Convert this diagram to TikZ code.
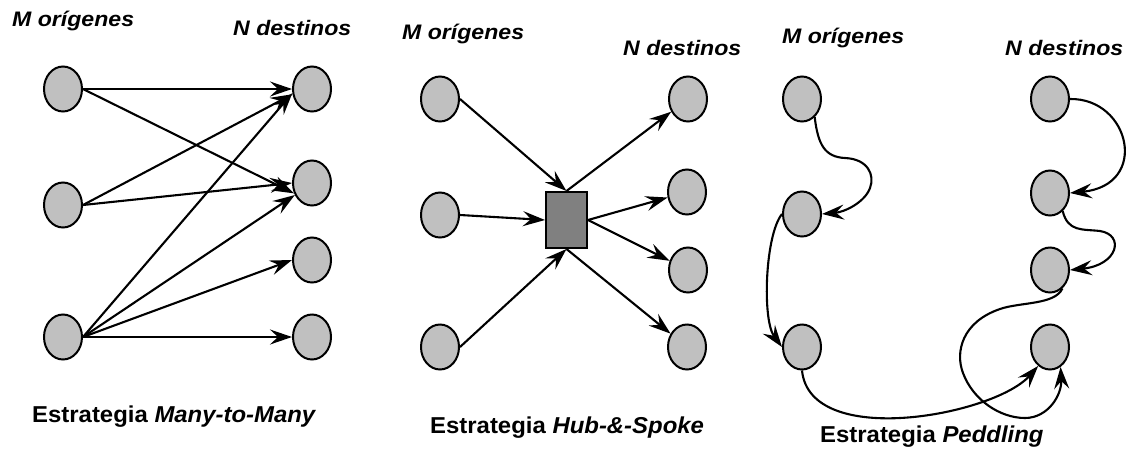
\documentclass[tikz,border=0pt]{standalone}
\usepackage{fontspec}
\setmainfont{Liberation Sans}
\usetikzlibrary{shapes.geometric,arrows.meta}
\definecolor{siteGray}{HTML}{C0C0C0}
\definecolor{hubGray}{HTML}{808080}
% widened lettering for the headings and captions
\newcommand\widetop[1]{\scalebox{1.1}[1]{#1}}
\newcommand\widecap[1]{\scalebox{1.04}[1]{#1}}

\begin{document}
\begin{tikzpicture}[x=1pt,y=-1pt,
  site/.style={ellipse, draw, line width=2pt, fill=siteGray,
    minimum width=38pt, minimum height=45pt, inner sep=0pt},
  hubbox/.style={rectangle, draw, line width=2pt, fill=hubGray,
    minimum width=41pt, minimum height=56pt, inner sep=0pt},
  flow/.style={line width=2.1pt, -{Stealth[length=22pt,width=15pt,inset=8pt]}},
  head/.style={font=\fontsize{21}{25}\selectfont\bfseries\itshape,
    inner sep=0pt, anchor=base west},
  caption/.style={font=\fontsize{23}{27}\selectfont\bfseries,
    inner sep=0pt, anchor=base west}]

\useasboundingbox (0,0) rectangle (1128,448);

% ---------- Many-to-Many ----------
\node[head] (h1o) at (12,26.7) {\widetop{M orígenes}};
\node[head] (h1d) at (233,35) {\widetop{N destinos}};
\node[site] (a1) at (63,89) {};
\node[site] (a2) at (63,205) {};
\node[site] (a3) at (63,337) {};
\node[site] (b1) at (312,89) {};
\node[site] (b2) at (312,183) {};
\node[site] (b3) at (312,260) {};
\node[site] (b4) at (312,337) {};
\draw[flow] (a1.east) -- (b1.west);
\draw[flow] (a1.east) -- (b2.210);
\draw[flow] (a2.east) -- (b1.195);
\draw[flow] (a2.east) -- (b2.west);
\draw[flow] (a3.east) -- (b1.192);
\draw[flow] (a3.east) -- (b2.215);
\draw[flow] (a3.east) -- (b3.west);
\draw[flow] (a3.east) -- (b4.west);
\node[caption] (c1cap) at (32,422) {\widecap{Estrategia \textit{Many-to-Many}}};

% ---------- Hub-&-Spoke ----------
\node[head] (h2o) at (402,39) {\widetop{M orígenes}};
\node[head] (h2d) at (623,55) {\widetop{N destinos}};
\node[site] (c1) at (440,99) {};
\node[site] (c2) at (440,215) {};
\node[site] (c3) at (440,347) {};
\node[hubbox] (hub) at (566.5,220) {};
\node[site] (d1) at (688,99) {};
\node[site] (d2) at (687,192) {};
\node[site] (d3) at (688,270) {};
\node[site] (d4) at (687,347) {};
\draw[flow] (c1.east) -- (hub.north);
\draw[flow] (c2.east) -- (hub.west);
\draw[flow] (c3.east) -- (hub.south);
\draw[flow] (hub.north) -- (d1);
\draw[flow] (hub.east) -- (d2);
\draw[flow] (hub.east) -- (d3);
\draw[flow] (hub.south) -- (d4);
\node[caption] (c2cap) at (430,433) {\widecap{Estrategia \textit{Hub-\&-Spoke}}};

% ---------- Peddling ----------
\node[head] (h3o) at (782,43) {\widetop{M orígenes}};
\node[head] (h3d) at (1005,55) {\widetop{N destinos}};
\node[site] (e1) at (802,99) {};
\node[site] (e2) at (802,214) {};
\node[site] (e3) at (802,347) {};
\node[site] (f1) at (1050,99) {};
\node[site] (f2) at (1050,193) {};
\node[site] (f3) at (1050,270) {};
\node[site] (f4) at (1050,347) {};
\draw[flow] (e1.-55) .. controls (818,145) and (825,157) .. (845,158)
  .. controls (868,159) and (875,175) .. (870,188)
  .. controls (865,202) and (845,212) .. (e2.east);
\draw[flow] (e2.west) .. controls (765,235) and (762,320) .. (e3.west);
\draw[flow] (e3.south) .. controls (810,450) and (995,415) .. (f4.-122);
\draw[flow] (f1.east) .. controls (1130,98) and (1150,185) .. (f2.east);
\draw[flow] (f2.-55) .. controls (1068,232) and (1082,229) .. (1100,231)
  .. controls (1125,235) and (1118,265) .. (f3.east);
\draw[flow] (f3.-56) .. controls (1055,305) and (1020,302) .. (1000,309)
  .. controls (962,322) and (955,352) .. (963,373)
  .. controls (973,400) and (1000,418) .. (1025,418)
  .. controls (1048,418) and (1062,395) .. (f4.-62);
\node[caption] (c3cap) at (820,442) {\widecap{Estrategia \textit{Peddling}}};
\end{tikzpicture}
\end{document}
